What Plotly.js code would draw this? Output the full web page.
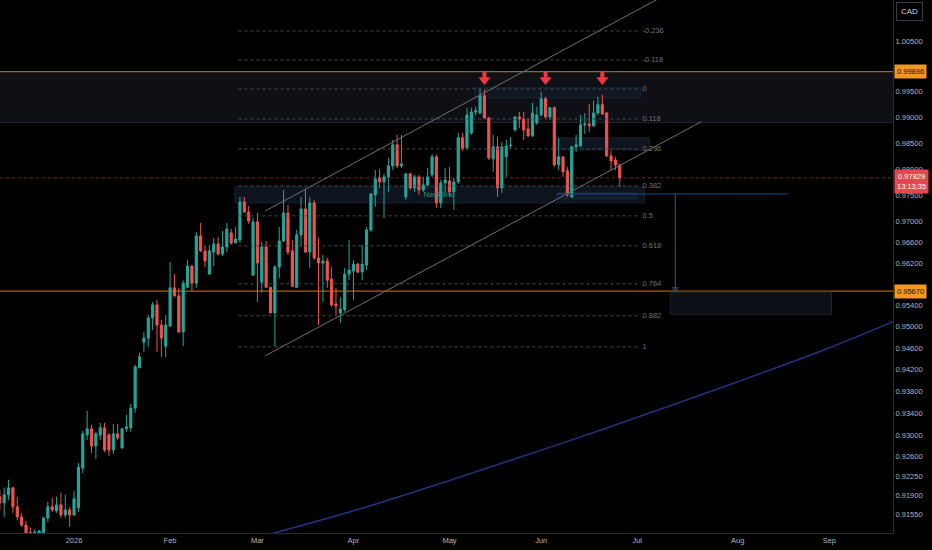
<!DOCTYPE html>
<html><head><meta charset="utf-8">
<script src="https://cdn.plot.ly/plotly-3.0.1.min.js"></script>
<style>html,body{margin:0;padding:0;background:#000;}#chart{width:932px;height:550px;}</style>
</head><body><div id="chart"></div>
<script>
// ---- candle data (daily, weekdays from 2025-12-09) ----
const startDate = '2025-12-09';
const opens = [
0.91874,0.91765,0.91910,0.92037,0.91692,0.91510,0.91364,0.91230,0.91190,0.91220,0.91230,0.91492,0.91692,0.91619,0.91728,0.91546,0.91637,
0.91546,0.91674,0.92392,0.93000,0.93111,0.92798,0.93000,0.93129,0.93000,0.92724,0.93019,0.92761,0.93111,0.93129,0.93492,0.94237,0.94713,0.94789,0.95166,0.95411,0.95034,0.94638,
0.95015,0.95732,0.95581,0.94902,0.95743,0.96143,0.95819,0.96716,0.96430,0.95991,0.96410,0.96563,0.96372,0.96506,0.96773,0.96582,0.96639,0.97365,0.97173,0.95972,
0.96983,0.95838,0.96506,0.95743,0.95260,0.96124,0.96620,0.97154,0.96430,0.95743,0.96735,0.97231,0.96410,0.97346,0.96296,0.96201,0.96239,0.95895,0.95430,0.95260,0.95317,0.95991,
0.96048,0.96181,0.96029,0.96162,0.96830,0.97500,0.97827,0.97750,0.97846,0.98058,0.98465,0.98058,0.97462,0.97904,0.97635,0.97846,0.97596,0.97692,0.97885,0.98233,0.97346,0.97731,
0.97769,0.97558,0.97750,0.98601,0.98407,0.98698,0.99105,0.99085,0.99422,0.98988,0.98194,0.98427,0.97635,0.98233,0.98446,0.98756,0.99008,0.98969,0.98775,0.98640,0.98891,
0.99047,0.99364,0.99008,0.99189,0.98078,0.98233,0.97961,0.97462,0.98427,0.98446,0.98853,0.98870,0.98833,0.99085,0.99247,0.99085,0.98252,0.98174,0.98078];
const highs = [
0.92001,0.92037,0.92183,0.92050,0.91874,0.91583,0.91437,0.91320,0.91290,0.91270,0.91510,0.91783,0.91855,0.91874,0.91946,0.91910,0.91692,
0.91983,0.92485,0.93074,0.93442,0.93185,0.93056,0.93222,0.93222,0.93037,0.93203,0.93203,0.93129,0.93369,0.93567,0.94293,0.94516,0.94902,0.95223,0.95468,0.95506,0.95128,0.95223,
0.96220,0.95991,0.95732,0.95876,0.96258,0.96160,0.96792,0.96964,0.96544,0.96544,0.96678,0.96697,0.96811,0.96964,0.96849,0.96887,0.97462,0.97462,0.97289,0.97060,
0.97154,0.96601,0.96620,0.95750,0.96162,0.96887,0.97596,0.97308,0.96639,0.96830,0.97462,0.97615,0.97462,0.97404,0.96678,0.96353,0.96296,0.96124,0.95732,0.95562,0.96105,0.96639,
0.96258,0.96201,0.96544,0.96887,0.97538,0.97981,0.98000,0.97904,0.98213,0.98562,0.98659,0.98659,0.97923,0.97923,0.97885,0.97885,0.97846,0.98019,0.98291,0.98272,0.97788,0.98019,
0.98039,0.97827,0.98698,0.98698,0.99189,0.99189,0.99208,0.99559,0.99539,0.99008,0.98659,0.98620,0.98523,0.98562,0.98620,0.99027,0.99105,0.99105,0.98988,0.99286,0.99208,
0.99500,0.99403,0.99208,0.99208,0.98601,0.98240,0.98039,0.98446,0.98659,0.99047,0.99085,0.99260,0.99325,0.99403,0.99442,0.99105,0.98349,0.98233,0.98097];
const lows = [
0.91637,0.91510,0.91819,0.91583,0.91455,0.91328,0.91164,0.91080,0.91120,0.91130,0.91183,0.91419,0.91601,0.91583,0.91492,0.91492,0.91328,
0.91528,0.91601,0.92300,0.92908,0.92669,0.92558,0.92908,0.92687,0.92614,0.92650,0.92908,0.92750,0.93056,0.93056,0.93406,0.94230,0.94535,0.94619,0.94940,0.94535,0.94442,0.94442,
0.94996,0.95562,0.94883,0.94638,0.95743,0.95675,0.95732,0.96410,0.96124,0.95980,0.96143,0.96353,0.96334,0.96410,0.96544,0.96575,0.96582,0.97154,0.96945,0.95965,
0.95468,0.95638,0.95732,0.95255,0.94638,0.95914,0.96601,0.96353,0.95750,0.95735,0.96506,0.96391,0.96105,0.96258,0.95034,0.95468,0.95732,0.95374,0.95223,0.95072,0.95279,0.95876,
0.95506,0.96010,0.95876,0.96067,0.96792,0.97269,0.97635,0.97058,0.97558,0.97981,0.98019,0.98019,0.97404,0.97596,0.97558,0.97500,0.97558,0.97654,0.97846,0.97250,0.97250,0.97538,
0.97462,0.97212,0.97711,0.98349,0.98368,0.98659,0.99047,0.99066,0.98969,0.98174,0.97942,0.97462,0.97538,0.97846,0.98407,0.98717,0.98795,0.98562,0.98620,0.98620,0.98853,
0.99027,0.98988,0.98950,0.98039,0.97981,0.97846,0.97462,0.97440,0.98330,0.98427,0.98678,0.98717,0.98814,0.99047,0.99047,0.98233,0.97981,0.97981,0.97654];
const closes = [
0.91765,0.91910,0.92037,0.91692,0.91510,0.91364,0.91219,0.91190,0.91240,0.91260,0.91492,0.91692,0.91637,0.91728,0.91546,0.91637,0.91546,
0.91837,0.92411,0.93019,0.93111,0.92798,0.93019,0.93129,0.92724,0.92724,0.93019,0.92945,0.93111,0.93148,0.93492,0.94255,0.94442,0.94789,0.95166,0.95411,0.95034,0.94789,0.95034,
0.95732,0.95581,0.94902,0.95819,0.96143,0.95819,0.96716,0.96430,0.96239,0.96430,0.96563,0.96372,0.96506,0.96849,0.96582,0.96658,0.97365,0.97173,0.97002,0.96983,
0.96201,0.96506,0.95743,0.95260,0.96124,0.96620,0.97154,0.96410,0.95762,0.96735,0.97231,0.96410,0.97346,0.96296,0.96201,0.96239,0.95876,0.95411,0.95392,0.95336,0.95991,0.96067,
0.96181,0.96029,0.96181,0.96830,0.97519,0.97808,0.97750,0.97846,0.98058,0.98465,0.98058,0.98097,0.97904,0.97635,0.97846,0.97596,0.97692,0.97846,0.98233,0.97346,0.97731,0.97788,
0.97558,0.97750,0.98601,0.98388,0.99047,0.99105,0.99124,0.99422,0.98988,0.98213,0.98427,0.97635,0.98427,0.98446,0.98460,0.99008,0.98969,0.98756,0.98640,0.99085,0.99047,
0.99364,0.99008,0.99189,0.98078,0.98233,0.97942,0.97500,0.98427,0.98465,0.98853,0.98870,0.98833,0.99085,0.99247,0.99066,0.98252,0.98155,0.98078,0.97829];

// ---- axis ticks (1.00000 and 0.95800 sit under the price tags, as on the reference) ----
const yTickVals = [1.005,0.995,0.99,0.985,0.98,0.975,0.97,0.966,0.962,0.954,0.95,0.946,0.942,0.938,0.934,0.93,0.926,0.9225,0.919,0.9155];
const xTickVals = ['2026-01-01','2026-02-02','2026-03-02','2026-04-01','2026-05-01','2026-06-01','2026-07-01','2026-08-03','2026-09-01'];
const xTickText = ['2026','Feb','Mar','Apr','May','Jun','Jul','Aug','Sep'];

// ---- fib retracement ----
const fibLabels = ['-0.236','-0.118','0','0.118','0.236','0.382','0.5','0.618','0.764','0.882','1'];
const fibPrices = [1.00698,1.00125,0.99555,0.98969,0.98387,0.97673,0.97098,0.96526,0.95808,0.95207,0.94627];
const fibSpan = ['2026-02-23 16:00','2026-07-01 03:00'];
const fibLabelX = '2026-07-02 05:00';

// ---- drawings ----
const upperChannelX = ['2026-03-03 19:00','2026-07-08 14:00'];
const upperChannelY = [0.97192, 1.01374];
const lowerChannelX = ['2026-03-03 19:00','2026-07-21 17:00'];
const lowerChannelY = [0.94460, 0.98917];
const blueCurveX = ['2026-03-02','2026-04-01','2026-05-01','2026-05-29','2026-06-23','2026-08-03','2026-08-31','2026-09-22'];
const blueCurveY = [0.91140,0.9162,0.9217,0.92694,0.93155,0.93978,0.94576,0.95109];
const arrowDates = ['2026-05-13','2026-06-02','2026-06-19'];
const arrowStemPrice = 0.99826, arrowHeadPrice = 0.99735;
const resistancePrice = 0.99896, supportPrice = 0.95670, lastPrice = 0.97829;
const zoneLow = 0.98897;
const lastTime = '13:13:35';

function weekdays(start, n) {
  const out = []; const d = new Date(start + 'T00:00:00Z');
  while (out.length < n) {
    const w = d.getUTCDay();
    if (w !== 0 && w !== 6) out.push(d.toISOString().slice(0, 10));
    d.setUTCDate(d.getUTCDate() + 1);
  }
  return out;
}
const dates = weekdays(startDate, opens.length);

const FONT = 'Liberation Sans, Arial, sans-serif';
const traces = [];

// fib dotted lines
const fx = [], fy = [];
fibPrices.forEach(p => { fx.push(fibSpan[0], fibSpan[1], null); fy.push(p, p, null); });
traces.push({type:'scatter', mode:'lines', x:fx, y:fy, line:{color:'#4a4c52', width:1, dash:'dot'}, hoverinfo:'skip'});
traces.push({type:'scatter', mode:'text', x:fibPrices.map(() => fibLabelX), y:fibPrices, text:fibLabels,
  textposition:'middle right', textfont:{family:FONT, size:7.5, color:'#6f727b'}, hoverinfo:'skip', cliponaxis:false});

// channel lines
traces.push({type:'scatter', mode:'lines', x:upperChannelX, y:upperChannelY, line:{color:'#6e6e72', width:1}, hoverinfo:'skip'});
traces.push({type:'scatter', mode:'lines', x:lowerChannelX, y:lowerChannelY, line:{color:'#6e6e72', width:1}, hoverinfo:'skip'});
// blue curve
traces.push({type:'scatter', mode:'lines', x:blueCurveX, y:blueCurveY, line:{color:'#1e3584', width:1.5, shape:'spline'}, hoverinfo:'skip'});

// candles
traces.push({type:'candlestick', x:dates, open:opens, high:highs, low:lows, close:closes,
  increasing:{line:{color:'#26a69a', width:1}, fillcolor:'#26a69a'},
  decreasing:{line:{color:'#ef5350', width:1}, fillcolor:'#ef5350'},
  hoverinfo:'skip', whiskerwidth:0});

// neckline text
traces.push({type:'scatter', mode:'text', x:['2026-04-28 14:00'], y:[0.97500], text:['Neckline'],
  textfont:{family:FONT, size:8, color:'#2a8f86'}, hoverinfo:'skip'});

// red arrows
traces.push({type:'scatter', mode:'markers', x:arrowDates, y:arrowDates.map(() => arrowStemPrice),
  marker:{symbol:'line-ns', size:6, line:{color:'#f23645', width:4}}, hoverinfo:'skip', cliponaxis:false});
traces.push({type:'scatter', mode:'markers', x:arrowDates, y:arrowDates.map(() => arrowHeadPrice),
  marker:{symbol:'triangle-down', size:10.5, color:'#f23645', line:{width:0}}, hoverinfo:'skip', cliponaxis:false});

// projection arrow head
traces.push({type:'scatter', mode:'markers', x:['2026-07-13 17:00'], y:[0.9571],
  marker:{symbol:'triangle-down-open', size:5, color:'#2e5a8f', line:{width:1, color:'#2e5a8f'}}, hoverinfo:'skip'});

const rect = (x0, x1, y0, y1, fill, line, xref) => ({type:'rect', xref:xref || 'x', yref:'y', x0, x1, y0, y1,
  fillcolor:fill, line:{color:line, width:line ? 1 : 0}, layer:'below'});
const hline = (y, color, dash, width) => ({type:'line', xref:'paper', yref:'y', x0:0, x1:1, y0:y, y1:y,
  line:{color, width:width || 1, dash:dash || 'solid'}, layer:'below'});

const shapes = [
  rect(0, 1, zoneLow, resistancePrice, '#0e1015', null, 'paper'),
  hline(zoneLow, '#24262d'),
  rect('2026-02-22 20:00', '2026-07-02 17:00', 0.97346, 0.97654, '#0e141d', '#18202c'),
  rect('2026-06-04 14:00', '2026-06-30 23:00', 0.97423, 0.97538, '#131b27', '#1e2838'),
  rect('2026-05-08 19:00', '2026-07-01 19:00', 0.99383, 0.99578, '#111823', '#1c2533'),
  rect('2026-06-04 14:00', '2026-07-03 19:00', 0.98368, 0.98601, '#0f151f', '#1c2533'),
  rect('2026-07-10 14:00', '2026-09-01 12:00', 0.95236, 0.95651, '#0b0f16', '#1e2430'),
  hline(lastPrice, '#74262a', 'dot'),
  hline(resistancePrice, '#a8640f', 'solid', 1.2),
  hline(supportPrice, '#a8640f', 'solid', 1.2),
  {type:'line', xref:'x', yref:'y', x0:'2026-06-04 14:00', x1:'2026-08-18 10:00', y0:0.97519, y1:0.97519, line:{color:'#1f4a8c', width:1}},
  {type:'line', xref:'x', yref:'y', x0:'2026-07-13 17:00', x1:'2026-07-13 17:00', y0:0.97519, y1:0.9569, line:{color:'#2e5a8f', width:1}}
];

const L = Math.log10;
const annotations = [
  {xref:'paper', yref:'y', x:1, xshift:1, xanchor:'left', y:L(resistancePrice), text:resistancePrice.toFixed(5),
   showarrow:false, bgcolor:'#f5961f', font:{family:FONT, size:7.5, color:'#111'}, borderpad:2},
  {xref:'paper', yref:'y', x:1, xshift:1, xanchor:'left', y:L(0.97750), text:lastPrice.toFixed(5) + '<br>' + lastTime,
   showarrow:false, bgcolor:'#e2484e', font:{family:FONT, size:7.5, color:'#fff'}, borderpad:2},
  {xref:'paper', yref:'y', x:1, xshift:1, xanchor:'left', y:L(supportPrice), text:supportPrice.toFixed(5),
   showarrow:false, bgcolor:'#f5961f', font:{family:FONT, size:7.5, color:'#111'}, borderpad:2},
  {xref:'paper', yref:'paper', x:1.0185, xanchor:'center', y:0.979, yanchor:'middle', text:'CAD', showarrow:false,
   bgcolor:'#000', bordercolor:'#3a3d45', borderwidth:1, borderpad:4, font:{family:FONT, size:8, color:'#d1d4dc'}}
];

const layout = {
  width:932, height:550,
  margin:{l:0, r:39, t:0, b:17, pad:0},
  paper_bgcolor:'#000', plot_bgcolor:'#000',
  showlegend:false, hovermode:false,
  font:{family:FONT, color:'#b2b5be', size:7.5},
  xaxis:{type:'date', range:['2025-12-09 01:00','2026-09-21 14:00'],
    rangebreaks:[{bounds:['sat','mon']}], rangeslider:{visible:false},
    tickvals:xTickVals, ticktext:xTickText, ticks:'', showgrid:false, zeroline:false,
    showline:true, linecolor:'#2a2c31', linewidth:1, tickfont:{size:7.5, color:'#b2b5be'}, fixedrange:true},
  yaxis:{type:'log', side:'right', range:[L(0.91221), L(1.01314)],
    tickvals:yTickVals, ticktext:yTickVals.map(v => v.toFixed(5)), ticks:'', showgrid:false, zeroline:false,
    showline:true, linecolor:'#2a2c31', linewidth:1, tickfont:{size:7.5, color:'#b2b5be'}, fixedrange:true},
  shapes, annotations
};

Plotly.newPlot('chart', traces, layout, {displayModeBar:false, staticPlot:true});
</script>
</body></html>
